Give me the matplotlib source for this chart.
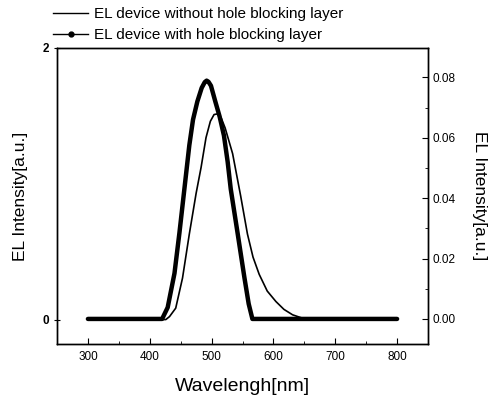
import matplotlib
matplotlib.use("Agg")
import matplotlib.pyplot as plt
from matplotlib.lines import Line2D
from matplotlib.ticker import MultipleLocator

plt.rcParams['font.family'] = ['Liberation Sans', 'DejaVu Sans']

# Courbe sans couche de blocage (axe de gauche)
wl_sans = [300, 380, 426, 432, 442, 453, 464, 475, 483, 491, 498, 504, 510,
           516, 522, 534, 547, 558, 567, 577, 590, 604, 617, 631, 647, 660,
           720, 800]
int_sans = [0, 0, 0, 0.022, 0.084, 0.306, 0.63, 0.93, 1.12, 1.34, 1.46, 1.51,
            1.515, 1.48, 1.41, 1.222, 0.911, 0.63, 0.46, 0.333, 0.21, 0.133,
            0.075, 0.035, 0.01, 0, 0, 0]

# Courbe avec couche de blocage (axe de droite)
wl_avec = [300, 360, 420, 429, 440, 448, 456, 464, 470, 477, 484, 489, 492,
           495, 499, 506, 513, 520, 526, 531, 542, 553, 560, 566, 650, 800]
int_avec = [0, 0, 0, 0.0038, 0.0151, 0.0285, 0.043, 0.0575, 0.066, 0.072,
            0.0765, 0.0784, 0.0789, 0.0785, 0.0772, 0.072, 0.067, 0.0607,
            0.052, 0.043, 0.0285, 0.0138, 0.005, 0, 0, 0]

legende = ["EL device without hole blocking layer",
           "EL device with hole blocking layer"]

fig = plt.figure(figsize=(4.91, 3.95), dpi=100)
ax = fig.add_axes([57 / 491, 51 / 395, 371 / 491, 296 / 395])
ax2 = ax.twinx()

ax.plot(wl_sans, int_sans, color='black', lw=1.2, solid_joinstyle='round')
ax2.plot(wl_avec, int_avec, color='black', lw=3.2, solid_joinstyle='round',
         solid_capstyle='round')

ax.set_xlim(250, 850)
ax.set_ylim(-0.18, 2.0)
ax2.set_ylim(-0.0083, 0.0897)

ax.set_xticks([300, 400, 500, 600, 700, 800])
ax.xaxis.set_minor_locator(MultipleLocator(50))
ax.set_yticks([0, 2])
ax.set_yticklabels(['0', '2'], fontweight='bold')
ax2.set_yticks([0.0, 0.02, 0.04, 0.06, 0.08])
ax2.set_yticklabels(['0.00', '0.02', '0.04', '0.06', '0.08'])
ax2.yaxis.set_minor_locator(MultipleLocator(0.01))

ax.tick_params(axis='x', direction='in', length=4, labelsize=8.5, pad=5)
ax.tick_params(axis='x', which='minor', direction='in', length=2)
ax.tick_params(axis='y', direction='inout', length=5, labelsize=8.5)
ax2.tick_params(axis='y', direction='in', length=4, labelsize=8.5)
ax2.tick_params(axis='y', which='minor', direction='in', length=2)

ax.set_xlabel("Wavelengh[nm]", fontsize=14, labelpad=11)
ax.set_ylabel("EL Intensity[a.u.]", fontsize=12.5, labelpad=10)
ax2.set_ylabel("EL Intensity[a.u.]", fontsize=12.5, rotation=270, labelpad=22)

for a in (ax, ax2):
    for s in a.spines.values():
        s.set_linewidth(1.0)

# Légende au-dessus du cadre
poignees = [Line2D([], [], color='black', lw=1.0),
            Line2D([], [], color='black', lw=1.0, marker='o', markersize=3.5)]
fig.legend(poignees, legende, loc='upper left',
           bbox_to_anchor=(53 / 491, 1 - 7 / 395), frameon=False,
           fontsize=11, handlelength=2.3, handletextpad=0.4,
           labelspacing=0.45, borderaxespad=0, borderpad=0)

fig.savefig("out.png", dpi=100)
